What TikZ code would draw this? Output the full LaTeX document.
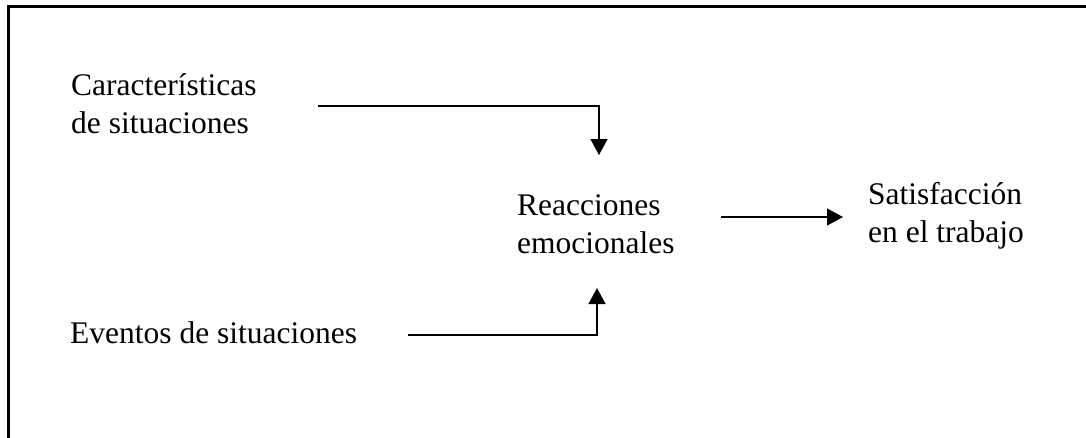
\documentclass[tikz,border=0pt]{standalone}
\usepackage{fontspec}
\setmainfont{Liberation Serif}
\usetikzlibrary{arrows.meta}
\begin{document}
\begin{tikzpicture}[x=1pt,y=-1pt,
  lbl/.style={inner sep=0pt,anchor=base west,align=left,font=\fontsize{31.5}{37.5}\selectfont},
  conn/.style={line width=1.4pt},
  arr/.style={conn,-{Triangle[length=16pt,width=17pt]}}]
\useasboundingbox (0,0) rectangle (1086,437);
\draw[line width=3pt] (8,440) -- (8,6) -- (1090,6);
\node[lbl] (car) at (71,133) {Características\\de situaciones};
\node[lbl] (reac) at (517,253) {Reacciones\\emocionales};
\node[lbl] (sat) at (868,242) {Satisfacción\\en el trabajo};
\node[lbl] (ev) at (70,343) {Eventos de situaciones};
\coordinate (c1) at (318,106);
\coordinate (c1e) at (599,155);
\coordinate (c2) at (408,335);
\coordinate (c2e) at (597,288);
\coordinate (c3) at (721,217);
\coordinate (c3e) at (843,217);
\draw[arr] (c1) -| (c1e);
\draw[arr] (c2) -| (c2e);
\draw[arr] (c3) -- (c3e);
\end{tikzpicture}
\end{document}
